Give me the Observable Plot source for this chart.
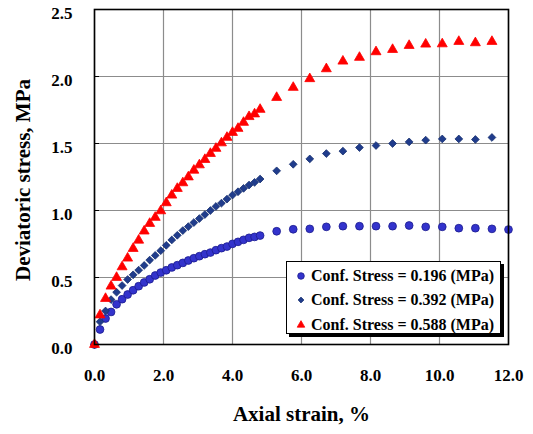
<!DOCTYPE html>
<html>
<head>
<meta charset="utf-8">
<script src="https://cdn.jsdelivr.net/npm/d3@7"></script>
<script src="https://cdn.jsdelivr.net/npm/@observablehq/plot@0.6"></script>
<style>
  html, body { margin: 0; padding: 0; background: #fff; }
  #wrap { position: relative; width: 533px; height: 434px; font-family: "Liberation Serif", "Times New Roman", serif; }
  #wrap > svg { display: block; }
  #legend { position: absolute; left: 286px; top: 261px; width: 213px; height: 71px; border: 1px solid #000; box-shadow: 3px 3px 0 #000; background: #fff; font-weight: bold; font-size: 16px; }
  .row { position: absolute; left: 0; height: 20px; display: flex; align-items: center; }
  .row svg { margin-left: 9px; margin-right: 5px; }
</style>
</head>
<body>
<div id="wrap"></div>
<script>
const xTicks = [0, 2, 4, 6, 8, 10, 12];
const yTicks = [0, 0.5, 1.0, 1.5, 2.0, 2.5];
const seriesNames = ["Conf. Stress = 0.196 (MPa)", "Conf. Stress = 0.392 (MPa)", "Conf. Stress = 0.588 (MPa)"];

const strain196 = [0,0.16,0.32,0.48,0.64,0.8,0.96,1.12,1.28,1.44,1.6,1.76,1.92,2.08,2.24,2.4,2.56,2.72,2.88,3.04,3.2,3.36,3.52,3.68,3.84,4.0,4.16,4.32,4.48,4.64,4.8,5.28,5.76,6.24,6.72,7.2,7.68,8.16,8.64,9.12,9.6,10.08,10.56,11.04,11.52,12.0];
const stress196 = [0,0.112,0.194,0.243,0.300,0.338,0.373,0.405,0.435,0.463,0.487,0.515,0.537,0.554,0.575,0.592,0.609,0.627,0.644,0.659,0.674,0.686,0.704,0.719,0.731,0.751,0.766,0.781,0.796,0.803,0.813,0.845,0.860,0.863,0.878,0.883,0.883,0.883,0.883,0.888,0.878,0.878,0.868,0.868,0.863,0.858];

const strain392 = [0,0.16,0.32,0.48,0.64,0.8,0.96,1.12,1.28,1.44,1.6,1.76,1.92,2.08,2.24,2.4,2.56,2.72,2.88,3.04,3.2,3.36,3.52,3.68,3.84,4.0,4.16,4.32,4.48,4.64,4.8,5.28,5.76,6.24,6.72,7.2,7.68,8.16,8.64,9.12,9.6,10.08,10.56,11.04,11.52];
const stress392 = [0,0.170,0.250,0.335,0.390,0.440,0.485,0.520,0.555,0.590,0.630,0.665,0.700,0.740,0.780,0.815,0.850,0.880,0.910,0.940,0.970,1.000,1.030,1.055,1.085,1.115,1.140,1.165,1.190,1.210,1.235,1.296,1.345,1.385,1.425,1.443,1.470,1.485,1.500,1.512,1.525,1.534,1.534,1.530,1.545];

const strain588 = [0,0.16,0.32,0.48,0.64,0.8,0.96,1.12,1.28,1.44,1.6,1.76,1.92,2.08,2.24,2.4,2.56,2.72,2.88,3.04,3.2,3.36,3.52,3.68,3.84,4.0,4.16,4.32,4.48,4.64,4.8,5.28,5.76,6.24,6.72,7.2,7.68,8.16,8.64,9.12,9.6,10.08,10.56,11.04,11.52];
const stress588 = [0,0.220,0.343,0.435,0.500,0.579,0.644,0.716,0.778,0.846,0.903,0.948,0.997,1.057,1.114,1.164,1.206,1.250,1.300,1.340,1.380,1.425,1.463,1.504,1.545,1.582,1.612,1.657,1.700,1.720,1.754,1.843,1.918,1.983,2.057,2.114,2.142,2.184,2.201,2.231,2.241,2.243,2.261,2.251,2.261];

const styles = [
  {symbol: "circle", fill: "#3333cc", stroke: "#1c1c8e", r: 3.9},
  {symbol: "diamond2", fill: "#203c8c", stroke: "#17306f", r: 3.5},
  {symbol: "triangle", fill: "#ff0000", stroke: "#ff0000", r: 3.7}
];

const series = [
  strain196.map((x, i) => ({x, y: stress196[i]})),
  strain392.map((x, i) => ({x, y: stress392[i]})),
  strain588.map((x, i) => ({x, y: stress588[i]}))
];

const font = "Liberation Serif, Times New Roman, serif";

const chart = Plot.plot({
  width: 533,
  height: 434,
  marginLeft: 94,
  marginRight: 25,
  marginTop: 9,
  marginBottom: 90,
  style: {fontFamily: font, background: "#fff"},
  x: {domain: [0, 12]},
  y: {domain: [0, 2.5]},
  marks: [
    Plot.gridX(xTicks, {stroke: "#8c8c8c", strokeOpacity: 1, strokeWidth: 1.2}),
    Plot.gridY(yTicks, {stroke: "#8c8c8c", strokeOpacity: 1, strokeWidth: 1.2}),
    Plot.axisX({ticks: xTicks, tickSize: 0, tickPadding: 24, tickFormat: d => d.toFixed(1), fontSize: 17, fontWeight: "bold", fill: "#000", label: null}),
    Plot.axisY({ticks: yTicks, tickSize: 0, tickPadding: 22, dy: 4, tickFormat: d => d.toFixed(1), fontSize: 17, fontWeight: "bold", fill: "#000", label: null}),
    Plot.axisY({ticks: yTicks, tickSize: 5, dx: 5, text: null, stroke: "#000", label: null}),
    ...series.map((d, i) => Plot.dot(d, {x: "x", y: "y", symbol: styles[i].symbol, fill: styles[i].fill, stroke: styles[i].stroke, strokeWidth: 0.8, r: styles[i].r})),
    Plot.frame({stroke: "#000", strokeWidth: 1.6}),
    Plot.text(["Axial strain, %"], {frameAnchor: "bottom", textAnchor: "middle", dy: 76, fontSize: 21, fontWeight: "bold", fill: "#000"}),
    Plot.text(["Deviatoric stress, MPa"], {frameAnchor: "left", textAnchor: "middle", dx: -71, dy: 3, rotate: -90, fontSize: 21, fontWeight: "bold", fill: "#000"})
  ]
});

const wrap = document.getElementById("wrap");
wrap.appendChild(chart);

const legend = document.createElement("div");
legend.id = "legend";
const tops = [4, 28, 53];
seriesNames.forEach((name, i) => {
  const row = document.createElement("div");
  row.className = "row";
  row.style.top = tops[i] + "px";
  const s = d3.create("svg").attr("width", 10).attr("height", 10);
  const st = styles[i];
  const symMap = {circle: d3.symbolCircle, diamond2: d3.symbolDiamond2, triangle: d3.symbolTriangle};
  const size = Math.PI * Math.pow(i === 0 ? 3.3 : (i === 1 ? 2.6 : 2.8), 2);
  s.append("path").attr("transform", "translate(5,5)").attr("d", d3.symbol(symMap[st.symbol], size)()).attr("fill", st.fill).attr("stroke", st.stroke).attr("stroke-width", 0.8);
  row.appendChild(s.node());
  const t = document.createElement("span");
  t.textContent = name;
  row.appendChild(t);
  legend.appendChild(row);
});
wrap.appendChild(legend);
</script>
</body>
</html>
